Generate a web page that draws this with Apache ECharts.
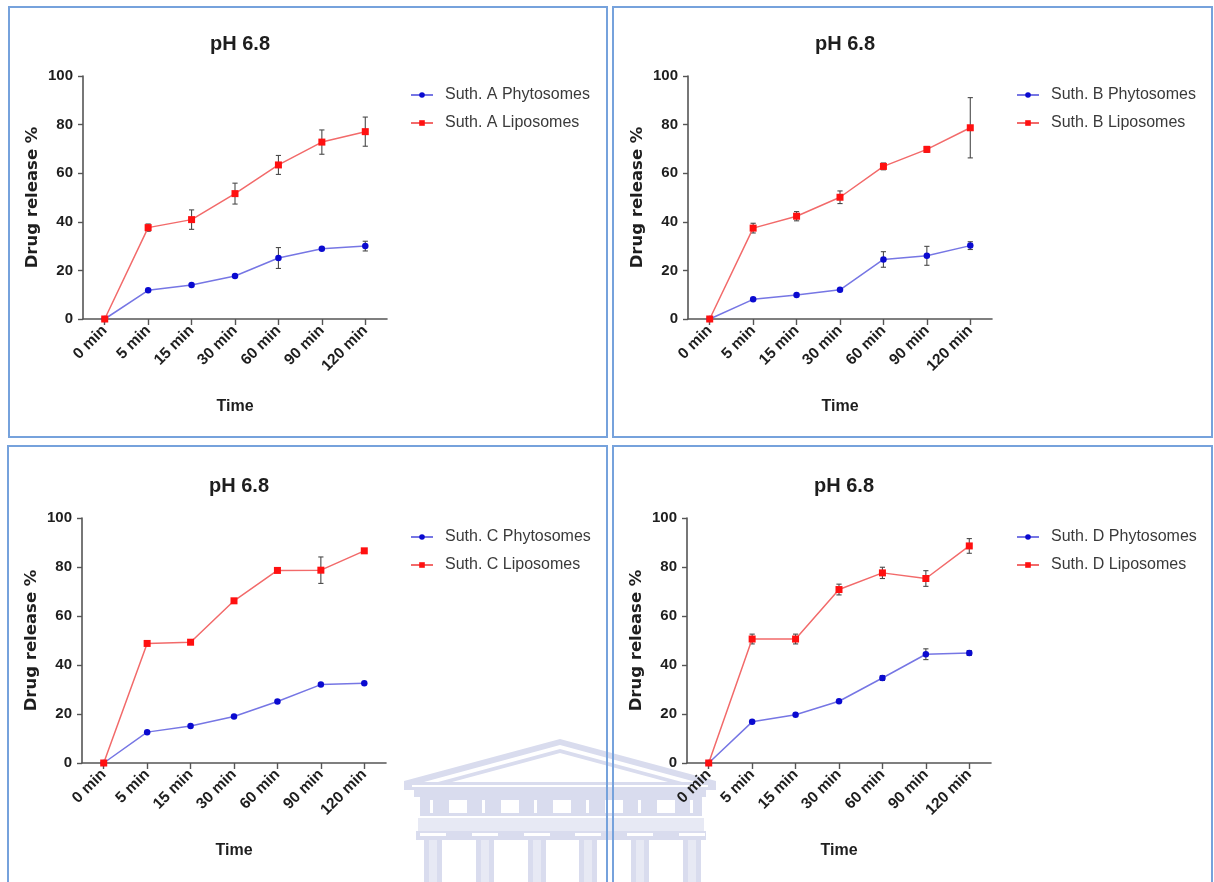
<!DOCTYPE html>
<html>
<head>
<meta charset="utf-8">
<script src="https://cdn.jsdelivr.net/npm/echarts@6/dist/echarts.min.js"></script>
<style>
  html, body { margin: 0; padding: 0; background: #ffffff; }
  #chart { width: 1214px; height: 882px; }
</style>
</head>
<body>
<div id="chart"></div>
<script>
// ---- data: cumulative drug release (%) at pH 6.8, mean and SD ----
const timeLabels = ['0 min', '5 min', '15 min', '30 min', '60 min', '90 min', '120 min'];
const panelTitle = 'pH 6.8';
const yAxisName = 'Drug release %';
const xAxisName = 'Time';

const phytoA    = [0, 11.8, 14.0, 17.7, 25.1, 28.9, 30.0];
const phytoAErr = [0, 0, 0, 0, 4.3, 0, 2.0];
const lipoA     = [0, 37.6, 40.9, 51.6, 63.4, 72.8, 77.1];
const lipoAErr  = [0, 1.5, 4.0, 4.3, 3.9, 5.0, 6.0];

const phytoB    = [0, 8.1, 9.9, 12.0, 24.5, 26.0, 30.2];
const phytoBErr = [0, 0, 0, 0, 3.2, 3.9, 1.6];
const lipoB     = [0, 37.4, 42.3, 50.1, 62.8, 69.8, 78.7];
const lipoBErr  = [0, 2.0, 1.9, 2.6, 1.4, 1.2, 12.4];

const phytoC    = [0, 12.6, 15.1, 19.0, 25.1, 32.0, 32.6];
const phytoCErr = [0, 0, 0, 0, 0, 0, 0];
const lipoC     = [0, 48.8, 49.3, 66.2, 78.6, 78.7, 86.6];
const lipoCErr  = [0, 0, 0, 0, 0, 5.4, 0];

const phytoD    = [0, 16.8, 19.7, 25.2, 34.7, 44.4, 44.9];
const phytoDErr = [0, 0, 0, 0, 1.0, 2.2, 1.0];
const lipoD     = [0, 50.6, 50.6, 70.8, 77.6, 75.3, 88.6];
const lipoDErr  = [0, 2.0, 2.0, 2.2, 2.3, 3.2, 3.0];

const extracts = ['Suth. A', 'Suth. B', 'Suth. C', 'Suth. D'];
const phytoSets = [[phytoA, phytoAErr], [phytoB, phytoBErr], [phytoC, phytoCErr], [phytoD, phytoDErr]];
const lipoSets  = [[lipoA, lipoAErr], [lipoB, lipoBErr], [lipoC, lipoCErr], [lipoD, lipoDErr]];

// ---- layout of the four panels (pixels) ----
const layout = [
  { grid: { left: 83,  top: 76,  width: 304, height: 243 }, box: [9, 7, 598, 430],   legend: [405, 82] },
  { grid: { left: 688, top: 76,  width: 304, height: 243 }, box: [613, 7, 599, 430], legend: [1011, 82] },
  { grid: { left: 82,  top: 518, width: 304, height: 245 }, box: [8, 446, 599, 450], legend: [405, 524] },
  { grid: { left: 687, top: 518, width: 304, height: 245 }, box: [613, 446, 599, 450], legend: [1011, 524] }
];

const SANS = "'Liberation Sans', Arial, sans-serif";
const AXIS_COLOR = '#555555';
const TEXT_COLOR = '#1e1e1e';
const BLUE_LINE = '#7676e4', BLUE_MARK = '#0a0ad0';
const RED_LINE = '#f26a6a',  RED_MARK = '#ff1010';
const BORDER = '#76a2dc';
const WM = '#d9dcee', WM_LIGHT = '#e7e9f4';

function errorBarSeries(name, gi, values, errs) {
  const data = values.map((v, i) => [i, v - errs[i], v + errs[i], errs[i]]);
  return {
    type: 'custom', name: name, xAxisIndex: gi, yAxisIndex: gi, z: 1,
    silent: true, data: data,
    encode: { x: 0, y: [1, 2] },
    renderItem: function (params, api) {
      if (api.value(3) <= 0) return null;
      const idx = api.value(0);
      const lo = api.coord([idx, api.value(1)]);
      const hi = api.coord([idx, api.value(2)]);
      const w = 2.6;
      const st = { stroke: '#4a4a4a', lineWidth: 1.1 };
      return {
        type: 'group',
        children: [
          { type: 'line', shape: { x1: lo[0], y1: lo[1], x2: hi[0], y2: hi[1] }, style: st },
          { type: 'line', shape: { x1: lo[0] - w, y1: lo[1], x2: lo[0] + w, y2: lo[1] }, style: st },
          { type: 'line', shape: { x1: hi[0] - w, y1: hi[1], x2: hi[0] + w, y2: hi[1] }, style: st }
        ]
      };
    }
  };
}

const grids = [], xAxes = [], yAxes = [], series = [], legends = [], titles = [];

layout.forEach(function (L, gi) {
  grids.push(L.grid);
  const cx = L.grid.left + L.grid.width / 2;

  titles.push({
    text: panelTitle, left: cx, top: L.grid.top - 47, textAlign: 'center',
    textStyle: { fontFamily: SANS, fontSize: 20, fontWeight: 'bold', color: TEXT_COLOR }
  });

  xAxes.push({
    type: 'category', gridIndex: gi, data: timeLabels, boundaryGap: true,
    name: xAxisName, nameLocation: 'middle', nameGap: 80,
    nameTextStyle: { fontFamily: SANS, fontSize: 16, fontWeight: 'bold', color: TEXT_COLOR },
    axisLine: { show: true, lineStyle: { color: AXIS_COLOR, width: 1.6 } },
    axisTick: { show: true, alignWithLabel: true, length: 6, lineStyle: { color: AXIS_COLOR, width: 1.4 } },
    axisLabel: { rotate: 45, margin: 9, interval: 0, fontFamily: SANS, fontSize: 15.5, fontWeight: 'bold', color: TEXT_COLOR },
    splitLine: { show: false }
  });

  yAxes.push({
    type: 'value', gridIndex: gi, min: 0, max: 100, interval: 20,
    name: yAxisName, nameLocation: 'middle', nameGap: 42, nameRotate: 90,
    nameTextStyle: { fontFamily: "'DejaVu Sans', sans-serif", fontSize: 16.5, fontWeight: 'bold', color: TEXT_COLOR },
    axisLine: { show: true, lineStyle: { color: AXIS_COLOR, width: 1.6 } },
    axisTick: { show: true, length: 5, lineStyle: { color: AXIS_COLOR, width: 1.4 } },
    axisLabel: { margin: 10, fontFamily: SANS, fontSize: 15, fontWeight: 'bold', color: TEXT_COLOR },
    splitLine: { show: false }
  });

  const pName = extracts[gi] + ' Phytosomes';
  const lName = extracts[gi] + ' Liposomes';
  const [pVals, pErr] = phytoSets[gi];
  const [lVals, lErr] = lipoSets[gi];

  series.push(errorBarSeries(pName + ' SD', gi, pVals, pErr));
  series.push(errorBarSeries(lName + ' SD', gi, lVals, lErr));

  series.push({
    type: 'line', name: pName, xAxisIndex: gi, yAxisIndex: gi, data: pVals, z: 3,
    symbol: 'circle', symbolSize: 6.5, showAllSymbol: true,
    lineStyle: { color: BLUE_LINE, width: 1.5 },
    itemStyle: { color: BLUE_MARK },
    emphasis: { disabled: true }, animation: false
  });
  series.push({
    type: 'line', name: lName, xAxisIndex: gi, yAxisIndex: gi, data: lVals, z: 4,
    symbol: 'rect', symbolSize: 7, showAllSymbol: true,
    lineStyle: { color: RED_LINE, width: 1.5 },
    itemStyle: { color: RED_MARK },
    emphasis: { disabled: true }, animation: false
  });

  legends.push({
    data: [pName, lName], orient: 'vertical',
    left: L.legend[0], top: L.legend[1],
    itemWidth: 22, itemHeight: 7, itemGap: 12,
    selectedMode: false,
    textStyle: { fontFamily: SANS, fontSize: 16, color: '#3a3a3a', lineHeight: 16, padding: [0, 0, 0, 7] }
  });
});

// panel frames
const graphics = [];
layout.forEach(function (L) {
  graphics.push({
    type: 'rect', z: 50, silent: true,
    shape: { x: L.box[0], y: L.box[1], width: L.box[2], height: L.box[3] },
    style: { fill: 'none', stroke: BORDER, lineWidth: 2 }
  });
});

// faint building emblem behind the lower panels
(function emblem() {
  const z = -10;
  const poly = (pts, fill) => graphics.push({ type: 'polygon', z: z, silent: true, shape: { points: pts }, style: { fill: fill } });
  const rect = (x, y, w, h, fill) => graphics.push({ type: 'rect', z: z, silent: true, shape: { x: x, y: y, width: w, height: h }, style: { fill: fill } });
  // pediment with double roof line
  poly([[560, 739], [404, 781], [404, 790], [716, 790], [716, 781]], WM);
  poly([[560, 745], [424, 782], [696, 782]], '#ffffff');
  poly([[560, 749], [438, 782], [682, 782]], WM);
  poly([[560, 753], [452, 782], [668, 782]], '#ffffff');
  rect(412, 785, 296, 2, '#ffffff');
  rect(414, 787, 292, 10, WM);
  // frieze with triglyphs and metopes
  rect(420, 797, 282, 19, WM);
  for (let k = 0; k < 6; k++) {
    const b = 420 + 52 * k;
    rect(b + 10, 800, 3, 13, '#ffffff');
    rect(b + 29, 800, 18, 13, '#ffffff');
  }
  rect(418, 816, 286, 2, '#ffffff');
  rect(418, 818, 286, 13, WM_LIGHT);
  // capitals band
  rect(416, 831, 290, 9, WM);
  const cols = [433, 485, 537, 588, 640, 692];
  cols.forEach(function (c) {
    rect(c - 13, 833, 26, 3, '#ffffff');
    rect(c - 9, 840, 18, 42, WM_LIGHT);
    rect(c - 9, 840, 5, 42, WM);
    rect(c + 4, 840, 5, 42, WM);
  });
})();

const chart = echarts.init(document.getElementById('chart'), null, { renderer: 'canvas' });
chart.setOption({
  backgroundColor: '#ffffff',
  animation: false,
  title: titles,
  grid: grids,
  xAxis: xAxes,
  yAxis: yAxes,
  legend: legends,
  series: series,
  graphic: graphics
});
</script>
</body>
</html>
